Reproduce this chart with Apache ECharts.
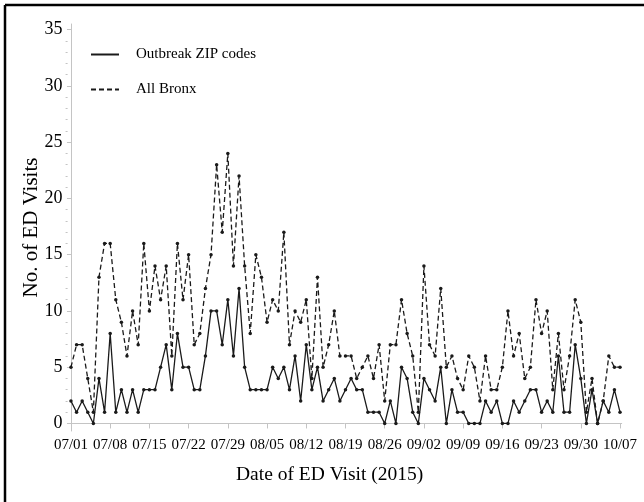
<!DOCTYPE html>
<html>
<head>
<meta charset="utf-8">
<script src="https://cdn.jsdelivr.net/npm/echarts@6/dist/echarts.min.js"></script>
<style>
html,body{margin:0;padding:0;background:#fff;}
#chart{width:644px;height:502px;}
</style>
</head>
<body>
<div id="chart"></div>
<script>
// Day index 0 = 07/01/2015, 98 = 10/07/2015
const startDate = new Date(2015, 6, 1);
const dates = [];
for (let i = 0; i < 99; i++) {
  const d = new Date(startDate.getTime() + i * 86400000);
  dates.push(String(d.getMonth() + 1).padStart(2, '0') + '/' + String(d.getDate()).padStart(2, '0'));
}
const tickDays = [0, 7, 14, 21, 28, 35, 42, 49, 56, 63, 70, 77, 84, 91, 98];
const yTicks = [0, 5, 10, 15, 20, 25, 30, 35];
const yMinorTicks = [1,2,3,4,6,7,8,9,11,12,13,14,16,17,18,19,21,22,23,24,26,27,28,29,31,32,33,34];

const outbreakZip = [
  2,1,2,1,0,4,1,8,1,3,
  1,3,1,3,3,3,5,7,3,8,
  5,5,3,3,6,10,10,7,11,6,
  12,5,3,3,3,3,5,4,5,3,
  6,2,7,3,5,2,3,4,2,3,
  4,3,3,1,1,1,0,2,0,5,
  4,1,0,4,3,2,5,0,3,1,
  1,0,0,0,2,1,2,0,0,2,
  1,2,3,3,1,2,1,6,1,1,
  7,4,0,3,0,2,1,3,1
];
const allBronx = [
  5,7,7,4,1,13,16,16,11,9,
  6,10,7,16,10,14,11,14,6,16,
  11,15,7,8,12,15,23,17,24,14,
  22,14,8,15,13,9,11,10,17,7,
  10,9,11,4,13,5,7,10,6,6,
  6,4,5,6,4,7,2,7,7,11,
  8,6,1,14,7,6,12,5,6,4,
  3,6,5,2,6,3,3,5,10,6,
  8,4,5,11,8,10,3,8,3,6,
  11,9,1,4,0,2,6,5,5
];

const serif = "'Liberation Serif', 'Times New Roman', 'DejaVu Serif', serif";
const chart = echarts.init(document.getElementById('chart'), null, {renderer: 'canvas'});
const axisGray = '#c4c4c4';

chart.setOption({
  animation: false,
  backgroundColor: '#fff',
  textStyle: {fontFamily: serif},
  graphic: [
    {type: 'line', shape: {x1: 5, y1: 5, x2: 644, y2: 5}, style: {stroke: '#000', lineWidth: 2.5}},
    {type: 'line', shape: {x1: 5, y1: 5, x2: 5, y2: 502}, style: {stroke: '#000', lineWidth: 2.5}}
  ],
  legend: {
    orient: 'vertical',
    left: 90,
    top: 47,
    padding: 0,
    itemWidth: 28,
    itemHeight: 14,
    itemGap: 20,
    itemStyle: {opacity: 0},
    textStyle: {fontFamily: serif, fontSize: 15, color: '#000', padding: [0, 0, 0, 12]},
    data: ['Outbreak ZIP codes', 'All Bronx']
  },
  grid: {left: 67.6, right: 22.3, top: 24, bottom: 71, containLabel: false},
  xAxis: {
    type: 'value',
    min: -0.6,
    max: 98.3,
    name: 'Date of ED Visit (2015)',
    nameLocation: 'middle',
    nameGap: 34,
    nameMoveOverlap: false,
    nameTextStyle: {fontFamily: serif, fontSize: 19.5, color: '#000', padding: [0, 30, 0, 0]},
    axisLine: {show: true, lineStyle: {color: axisGray, width: 1}},
    axisTick: {show: true, customValues: tickDays, length: 5, lineStyle: {color: axisGray}},
    axisLabel: {
      customValues: tickDays,
      formatter: v => dates[Math.round(v)],
      fontFamily: serif, fontSize: 15, color: '#000', margin: 7
    },
    splitLine: {show: false}
  },
  yAxis: [
    {
      type: 'value',
      min: -0.67,
      max: 35.5,
      name: 'No. of ED Visits',
      nameLocation: 'middle',
      nameRotate: 90,
      nameGap: 26,
      nameMoveOverlap: false,
      nameTextStyle: {fontFamily: serif, fontSize: 21, color: '#000'},
      axisLine: {show: true, lineStyle: {color: axisGray, width: 1}},
      axisTick: {show: true, customValues: yTicks, length: 4, lineStyle: {color: axisGray}},
      axisLabel: {customValues: yTicks, fontFamily: serif, fontSize: 18, color: '#000', margin: 5},
      splitLine: {show: false}
    },
    {
      type: 'value',
      min: -0.67,
      max: 35.5,
      position: 'left',
      axisLine: {show: false},
      axisTick: {show: true, customValues: yMinorTicks, length: 2, lineStyle: {color: axisGray}},
      axisLabel: {show: false},
      splitLine: {show: false}
    }
  ],
  series: [
    {
      name: 'Outbreak ZIP codes',
      type: 'line',
      data: outbreakZip.map((v, i) => [i, v]),
      symbol: 'circle',
      symbolSize: 3.5,
      itemStyle: {color: '#1a1a1a'},
      lineStyle: {color: '#1a1a1a', width: 1.3, type: 'solid'},
      z: 3
    },
    {
      name: 'All Bronx',
      type: 'line',
      data: allBronx.map((v, i) => [i, v]),
      symbol: 'circle',
      symbolSize: 3.5,
      itemStyle: {color: '#1a1a1a'},
      lineStyle: {color: '#1a1a1a', width: 1.3, type: [5, 3]},
      z: 2
    }
  ]
});
</script>
</body>
</html>
